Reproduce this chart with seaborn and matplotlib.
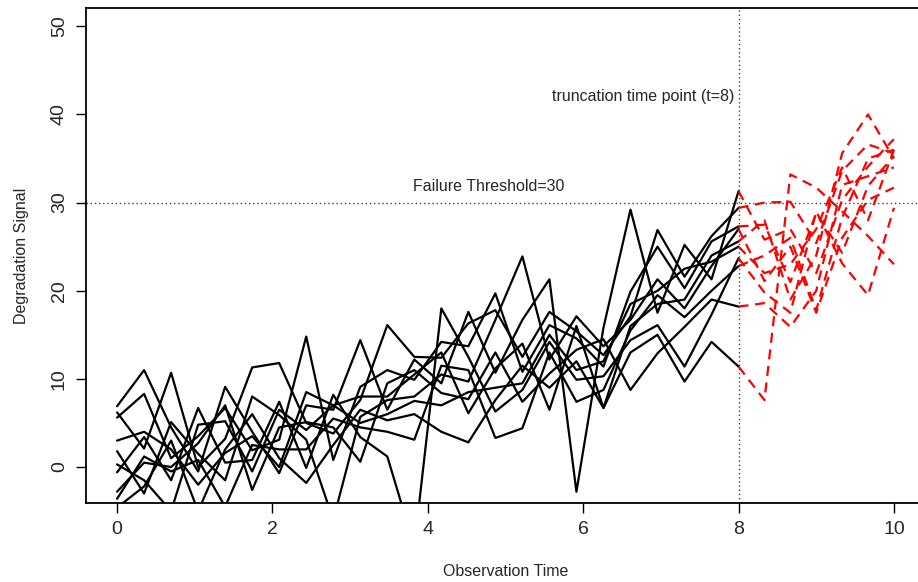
import numpy as np
import pandas as pd
import matplotlib
matplotlib.use("Agg")
import matplotlib.pyplot as plt
import seaborn as sns

# observation grid (24 points from 0 to 8) and prediction grid (7 points from 8 to 10)
t_obs = np.linspace(0, 8, 24)
t_pred = np.linspace(8, 10, 7)

black_series = [
    [6.9, 11.0, 4.5, -0.5, 9.1, 4.0, -0.7, 7.0, 6.5, 14.4, 6.5, 12.2, 9.5, 17.6, 10.7, 16.7, 21.3, -2.8, 15.8, 29.2, 17.5, 25.2, 21.3, 31.3],
    [6.2, 2.1, 10.7, 0.0, 3.2, 11.3, 11.8, 5.0, 3.8, 7.6, 16.1, 12.5, 12.4, 16.3, 17.8, 12.5, 17.6, 15.4, 12.7, 17.1, 26.9, 21.6, 26.2, 29.4],
    [5.6, 8.3, 1.0, 3.5, 6.7, 1.9, 3.1, 14.8, 0.8, 9.1, 11.0, 9.9, 14.2, 13.7, 19.7, 10.8, 16.1, 14.6, 11.4, 19.9, 25.0, 20.3, 25.6, 27.3],
    [1.8, -3.0, 5.1, 1.5, -1.5, 8.0, 5.9, 3.1, -6.0, 5.7, 7.6, 8.0, 10.5, 9.7, 16.7, 23.9, 12.2, 17.1, 13.7, 16.7, 21.3, 18.0, 22.8, 27.0],
    [-0.6, 3.4, -1.5, 6.7, 0.5, 0.8, 7.4, -0.1, 8.2, 3.4, 1.2, -9.0, 18.0, 12.5, 6.3, 8.75, 14.2, 9.9, 10.3, 14.4, 16.1, 11.4, 17.3, 23.7],
    [-2.8, 0.5, 0.0, 2.7, 7.0, -2.6, 4.5, 5.1, 4.5, 0.6, 9.5, 11.0, 8.4, 7.7, 13.0, 7.4, 10.6, 13.3, 14.5, 8.75, 12.9, 15.9, 19.0, 18.2],
    [-4.6, -2.2, 3.0, -5.0, 2.0, 6.0, 1.0, -1.8, 2.5, 6.5, 5.3, 6.0, 4.0, 2.8, 7.6, 11.5, 9.0, 12.0, 6.7, 13.0, 15.0, 9.7, 14.2, 11.4],
    [-3.6, 1.2, -0.5, 0.8, -4.5, 2.5, 2.0, 2.0, 5.5, 4.5, 4.0, 3.1, 11.5, 11.0, 3.3, 4.4, 13.0, 7.4, 8.75, 15.5, 19.5, 17.0, 20.0, 22.8],
    [0.3, -1.5, -5.0, 4.8, 5.2, -0.5, 6.5, 4.2, 7.0, 8.0, 8.0, 10.5, 13.0, 6.1, 11.2, 14.0, 6.5, 16.0, 6.7, 16.0, 18.5, 19.0, 24.0, 25.6],
    [3.0, 4.0, 2.0, -2.0, 1.6, 3.5, 0.0, 8.5, 7.0, 5.0, 6.0, 7.5, 7.0, 8.5, 9.0, 9.5, 15.0, 11.0, 12.0, 18.5, 20.0, 22.5, 23.3, 25.0],
]

red_series = [
    [31.3, 25.8, 27.0, 22.0, 30.3, 34.1, 37.2],
    [29.4, 30.0, 30.1, 25.4, 33.6, 36.6, 35.6],
    [27.3, 27.5, 21.0, 28.8, 24.3, 31.9, 35.3],
    [27.0, 21.1, 25.0, 17.5, 26.0, 30.3, 31.7],
    [23.7, 19.8, 17.5, 29.0, 23.1, 19.5, 29.4],
    [18.2, 18.6, 15.9, 20.0, 32.0, 33.0, 34.0],
    [11.4, 7.6, 33.2, 31.7, 29.0, 26.2, 23.0],
    [22.8, 24.0, 26.0, 17.8, 28.3, 35.0, 36.0],
    [25.6, 28.0, 19.0, 24.0, 35.6, 40.0, 35.0],
    [25.0, 22.0, 23.0, 27.0, 34.0, 28.0, 36.0],
]

threshold = 30
trunc_t = 8
x_ticks = [0, 2, 4, 6, 8, 10]
y_ticks = [0, 10, 20, 30, 40, 50]

obs_df = pd.DataFrame([
    {"unit": i, "t": t, "signal": v}
    for i, s in enumerate(black_series) for t, v in zip(t_obs, s)
])
pred_df = pd.DataFrame([
    {"unit": i, "t": t, "signal": v}
    for i, s in enumerate(red_series) for t, v in zip(t_pred, s)
])

sns.set_style("white")
plt.rcParams["font.family"] = ["Liberation Sans", "DejaVu Sans"]

fig = plt.figure(figsize=(9.18, 5.82), dpi=100)
ax = fig.add_axes([86 / 918, 1 - 503 / 582, (925 - 86) / 918, (503 - 8) / 582])

sns.lineplot(data=obs_df, x="t", y="signal", units="unit", estimator=None,
             color="black", linewidth=1.6, ax=ax, legend=False)
sns.lineplot(data=pred_df, x="t", y="signal", units="unit", estimator=None,
             color="red", linewidth=1.6, ax=ax, legend=False)
for line in ax.lines[len(black_series):]:
    line.set_linestyle((0, (4.5, 3)))

ax.axhline(threshold, color="#444444", linestyle=(0, (1, 2)), linewidth=1)
ax.axvline(trunc_t, color="#444444", linestyle=(0, (1, 2)), linewidth=1)

ax.text(4.78, threshold + 1.0, "Failure Threshold=30", ha="center", va="bottom", fontsize=11.5)
ax.text(7.95, 41.2, "truncation time point (t=8)", ha="right", va="bottom", fontsize=11.5)

ax.set_xlim(-0.4, 10.4)
ax.set_ylim(-4.08, 52.08)
ax.set_xticks(x_ticks)
ax.set_yticks(y_ticks)
ax.set_xticklabels([str(v) for v in x_ticks], fontsize=14)
ax.set_yticklabels([str(v) for v in y_ticks], fontsize=14, rotation=90, va="center")
ax.tick_params(axis="both", direction="out", length=7, width=1, color="black",
               bottom=True, left=True, pad=6)
ax.set_xlabel("Observation Time", fontsize=11.5, labelpad=19)
ax.set_ylabel("Degradation Signal", fontsize=11.5, labelpad=16)

for side in ["left", "bottom", "top", "right"]:
    ax.spines[side].set_visible(True)
    ax.spines[side].set_color("black")
    ax.spines[side].set_linewidth(1.3)

fig.savefig("out.png", dpi=100)
